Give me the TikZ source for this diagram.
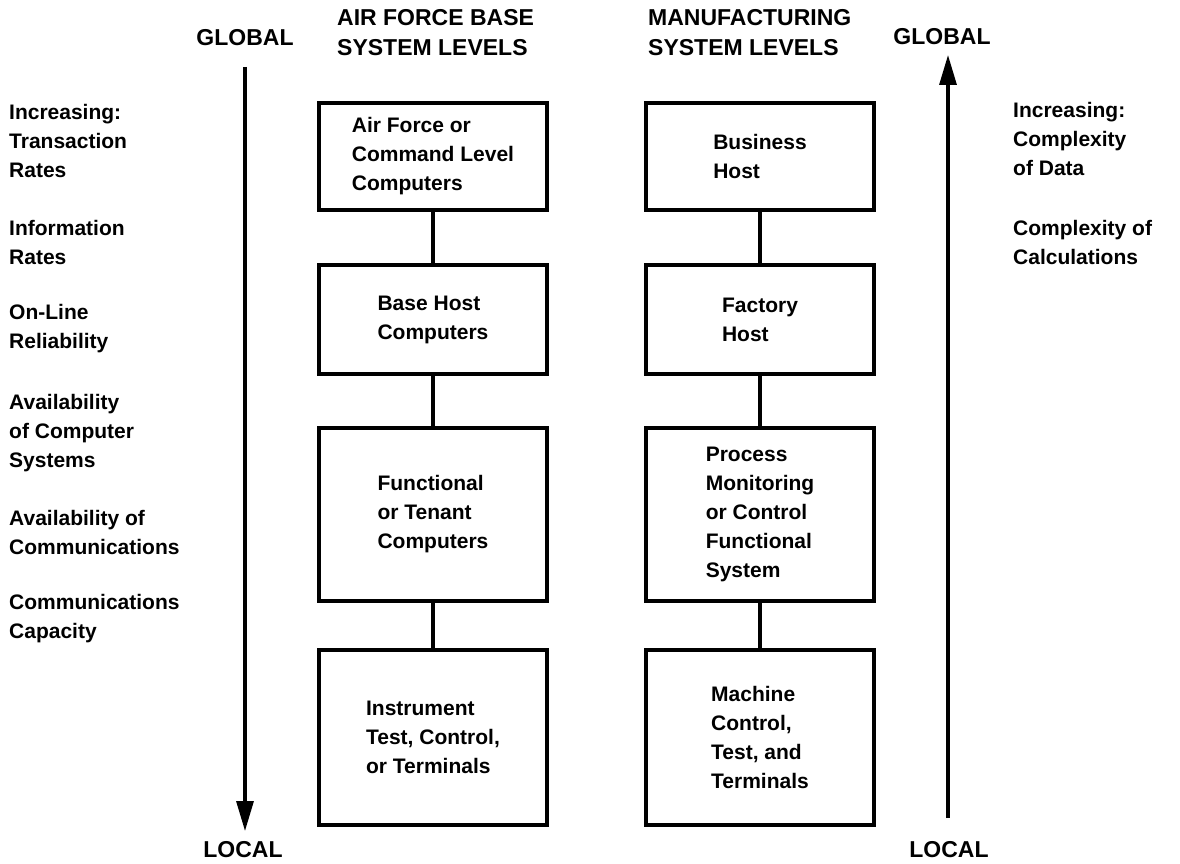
\documentclass[tikz,border=0pt]{standalone}
\usepackage{fontspec}
\setmainfont{Liberation Sans}
\usetikzlibrary{arrows.meta}
\tikzset{
  levelbox/.style={draw, line width=3.5pt, minimum width=228pt, inner sep=0pt,
    align=left, font=\bfseries\fontsize{21}{29}\selectfont},
  sidetext/.style={anchor=west, align=left, inner sep=0pt,
    font=\bfseries\fontsize{21}{29}\selectfont},
  heading/.style={anchor=west, align=left, inner sep=0pt,
    font=\bfseries\fontsize{23}{30}\selectfont},
  endword/.style={inner sep=0pt, font=\bfseries\fontsize{23}{28}\selectfont},
  link/.style={line width=3.2pt},
  axis/.style={line width=3.2pt, -{Triangle[length=30pt,width=17pt]}}
}
\begin{document}
\begin{tikzpicture}[x=1pt,y=-1pt]
  \useasboundingbox (0,0) rectangle (1180,864);

  %titles
  \node[heading] (afhead) at (337,33) {AIR FORCE BASE\\SYSTEM LEVELS};
  \node[heading] (mfhead) at (648,33) {MANUFACTURING\\SYSTEM LEVELS};

  %air force base column
  \node[levelbox, minimum height=107pt] (af1) at (433,156.5) {Air Force or\\Command Level\\Computers};
  \node[levelbox, minimum height=109pt] (af2) at (433,319.5) {Base Host\\Computers};
  \node[levelbox, minimum height=173pt] (af3) at (433,514.5) {Functional\\or Tenant\\Computers};
  \node[levelbox, minimum height=175pt] (af4) at (433,737.5) {Instrument\\Test, Control,\\or Terminals};
  \draw[link] (af1) -- (af2);
  \draw[link] (af2) -- (af3);
  \draw[link] (af3) -- (af4);

  %manufacturing column
  \node[levelbox, minimum height=107pt] (mf1) at (760,156.5) {Business\\Host};
  \node[levelbox, minimum height=109pt] (mf2) at (760,319.5) {Factory\\Host};
  \node[levelbox, minimum height=173pt] (mf3) at (760,514.5) {Process\\Monitoring\\or Control\\Functional\\System};
  \node[levelbox, minimum height=175pt] (mf4) at (760,737.5) {Machine\\Control,\\Test, and\\Terminals};
  \draw[link] (mf1) -- (mf2);
  \draw[link] (mf2) -- (mf3);
  \draw[link] (mf3) -- (mf4);

  %left scale
  \node[endword] (lglobal) at (245,38) {GLOBAL};
  \node[endword] (llocal) at (243,850) {LOCAL};
  \coordinate (ltop) at (245,67);
  \coordinate (lbot) at (245,831);
  \draw[axis] (ltop) -- (lbot);

  %right scale
  \node[endword] (rglobal) at (942,37) {GLOBAL};
  \node[endword] (rlocal) at (949,850) {LOCAL};
  \coordinate (rbot) at (948,818);
  \coordinate (rtop) at (948,55);
  \draw[axis] (rbot) -- (rtop);

  %text left of the scale
  \node[sidetext] (trans) at (9,141) {Increasing:\\Transaction\\Rates};
  \node[sidetext] (info) at (9,242) {Information\\Rates};
  \node[sidetext] (online) at (9,329) {On-Line\\Reliability};
  \node[sidetext] (avcomp) at (9,433) {Availability\\of Computer\\Systems};
  \node[sidetext] (avcomm) at (9,532) {Availability of\\Communications};
  \node[sidetext] (capac) at (9,619) {Communications\\Capacity};

  %text right of the scale
  \node[sidetext] (data) at (1013,139) {Increasing:\\Complexity\\of Data};
  \node[sidetext] (calc) at (1013,242) {Complexity of\\Calculations};
\end{tikzpicture}
\end{document}
